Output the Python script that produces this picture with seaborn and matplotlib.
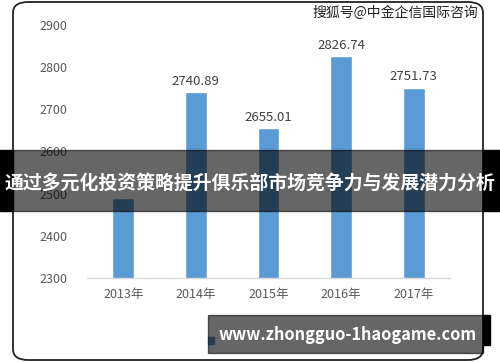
import matplotlib
matplotlib.use("Agg")
import matplotlib.pyplot as plt
import seaborn as sns
import pandas as pd
from matplotlib.patches import FancyBboxPatch, Rectangle

years = ["2013年", "2014年", "2015年", "2016年", "2017年"]
values = [2490.0, 2740.89, 2655.01, 2826.74, 2751.73]
labels = ["", "2740.89", "2655.01", "2826.74", "2751.73"]
yticks = [2300, 2400, 2500, 2600, 2700, 2800, 2900]
title = "通过多元化投资策略提升俱乐部市场竞争力与发展潜力分析"
watermark = "搜狐号@中金企信国际咨询"
site = "www.zhongguo-1haogame.com"

sns.set_theme(style="white")
plt.rcParams['font.family'] = ['Noto Sans CJK SC', 'DejaVu Sans']

df = pd.DataFrame({"year": years, "value": values})

fig = plt.figure(figsize=(5, 3.62), dpi=100)
ax = fig.add_axes([0.174, 0.232, 0.726, 0.699])
sns.barplot(data=df, x="year", y="value", color="#5B9BD5", saturation=1,
            width=0.3, ax=ax)
ax.set_ylim(2300, 2900)
ax.set_xlim(-0.5, 4.5)
ax.set_yticks(yticks)
ax.set_xlabel("")
ax.set_ylabel("")
for s in ["top", "right", "left"]:
    ax.spines[s].set_visible(False)
ax.spines["bottom"].set_color("#D9D9D9")
ax.spines["bottom"].set_linewidth(1)
ax.tick_params(axis="both", length=0, labelsize=9, labelcolor="#595959")
ax.tick_params(axis="x", pad=7)
ax.tick_params(axis="y", pad=14)

for i, (v, lab) in enumerate(zip(values, labels)):
    if lab:
        ax.annotate(lab, (i, v), xytext=(0, 3), textcoords="offset points",
                    ha="center", va="bottom", fontsize=9.5, color="#404040")

# rounded frame
frame = FancyBboxPatch((13/500, 1 - 360/362), (483-13)/500, (360-2)/362,
                       boxstyle="round,pad=0,rounding_size=0.03",
                       transform=fig.transFigure, fill=False,
                       edgecolor="#222222", linewidth=1.3, zorder=5)
fig.patches.append(frame)

# legend marker under the bottom banner
fig.patches.append(Rectangle((208/500, 1 - 344/362), 6/500, 7/362,
                             transform=fig.transFigure, color="#5B9BD5", zorder=6))

# watermark
fig.text(395/500, 1 - 13/362, watermark, ha="center", va="center",
         fontsize=10, color="#222222", zorder=10)

# central banner
y0, y1 = 1 - 211/362, 1 - 150/362
fig.patches.append(Rectangle((13/500, y0), 470/500, y1 - y0, transform=fig.transFigure,
                             color="black", alpha=0.6, zorder=20))
fig.patches.append(Rectangle((0, y0), 13/500, y1 - y0, transform=fig.transFigure,
                             color="black", zorder=20))
fig.patches.append(Rectangle((483/500, y0), 17/500, y1 - y0, transform=fig.transFigure,
                             color="black", zorder=20))
fig.text(0.5, 1 - 183/362, title, ha="center", va="center", fontsize=13.6,
         fontweight="bold", color="white", zorder=21)

# bottom banner
b0, b1 = 1 - 353/362, 1 - 315/362
fig.patches.append(Rectangle((208/500, b0), 275/500, b1 - b0, transform=fig.transFigure,
                             color="black", alpha=0.6, zorder=20))
fig.patches.append(Rectangle((483/500, 1 - 345/362), 7/500, 30/362, transform=fig.transFigure,
                             color="black", zorder=19))
fig.text(219/500, 1 - 335/362, site, ha="left", va="center", fontsize=11.8,
         fontweight="bold", color="white", zorder=21)

fig.savefig("out.png", dpi=100)
